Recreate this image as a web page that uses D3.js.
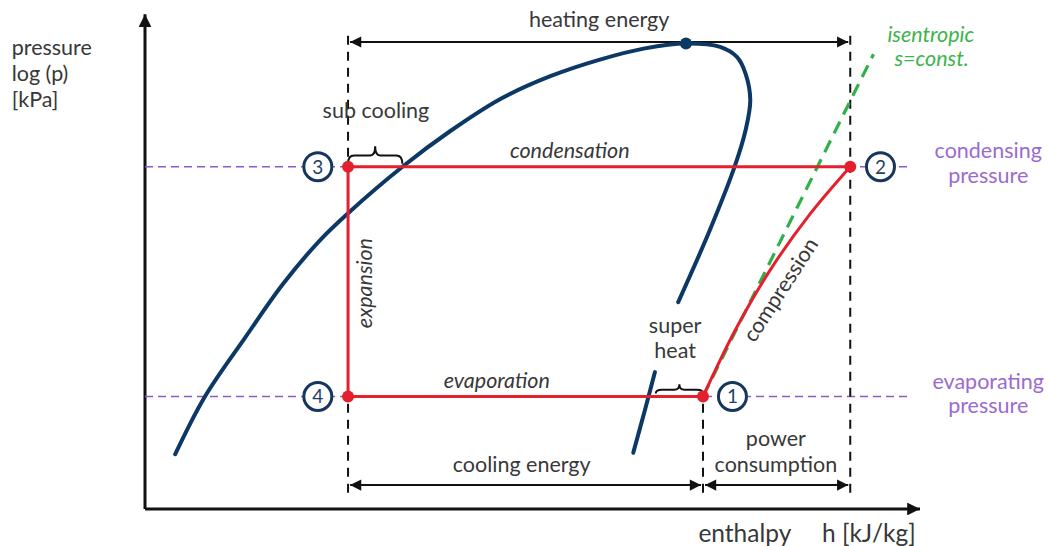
<!DOCTYPE html>
<html>
<head>
  <meta charset="utf-8" />
  <title>log p-h diagram</title>
  <script type="text/javascript" src="https://cdn.jsdelivr.net/npm/d3@7"></script>
  <style type="text/css">
  body { margin: 0; background: #fff; }
  svg { display: block; }
  text {
    font-family: Lato, "Open Sans", sans-serif;
    font-size: 21.5px;
    fill: #383838;
  }
  .it { font-style: italic; }
  .big { font-size: 24.5px; }
  .ylab { font-size: 21.5px; }
  .purple { fill: #9a6bd0; }
  .green { fill: #3cb44b; }
  .num { fill: #1f3f66; font-size: 19px; }
  </style>
</head>
<body>
  <script type="text/javascript">
    // cycle state points [h, log p] (diagram units)
    var cyclePts = [
      { id: 1, h: 72,   p: 23, ch: 75.8 },
      { id: 2, h: 91,   p: 70, ch: 94.9 },
      { id: 3, h: 26.2, p: 70, ch: 22.3 },
      { id: 4, h: 26.2, p: 23, ch: 22.3 }
    ]

    // saturation dome (liquid side up to critical point, then vapour side)
    var domeUpper = [
      [3.9, 11.2], [7.7, 22.9], [12.9, 35.0], [17.8, 46.0], [22.6, 55.0],
      [26.2, 60.5], [33.3, 70.1], [39.4, 77.3], [45.8, 83.8], [52.3, 88.5],
      [58.7, 91.9], [64.5, 94.2], [69.8, 95.2], [74.2, 94.5], [76.4, 92.4],
      [77.5, 89.0], [78.1, 83.6], [77.5, 77.5], [76.1, 70.1], [72.9, 57.1],
      [68.8, 42.3]
    ]
    var domeLower = [[65.8, 28.0], [64.5, 20.2], [63.0, 11.5]]
    var criticalPt = [69.8, 95.2]

    var compression = [[72, 23], [76.1, 36.4], [80.6, 48.7], [85.8, 60.3], [91, 70]]
    var isentropic = [[72, 23], [94, 93]]

    var pressureLines = [70, 23]
    var dashedVerticals = [
      { h: 26.2, p0: 3.3, p1: 98 },
      { h: 91,   p0: 3.3, p1: 98 },
      { h: 72,   p0: 3.3, p1: 23 }
    ]

    var dimArrows = [
      { h0: 26.2, h1: 91, p: 95.5 },
      { h0: 26.2, h1: 72, p: 4.9 },
      { h0: 72,   h1: 91, p: 4.9 }
    ]

    var braces = [
      { h0: 26.2, h1: 33.2, p: 70, up: 4.2 },
      { h0: 65.9, h1: 72,   p: 23, up: 2.5 }
    ]

    var labels = [
      { t: 'heating energy', h: 58.6, p: 98.6 },
      { t: 'sub cooling', h: 29.8, p: 80.0 },
      { t: 'condensation', h: 54.8, p: 71.8, cls: 'it' },
      { t: 'evaporation', h: 45.4, p: 24.8, cls: 'it' },
      { t: 'expansion', h: 29.3, p: 46.2, cls: 'it', rot: -90 },
      { t: 'compression', h: 82.8, p: 44.0, rot: -57 },
      { t: 'super', h: 68.4, p: 36.0 },
      { t: 'heat', h: 68.4, p: 30.9 },
      { t: 'cooling energy', h: 48.6, p: 7.6 },
      { t: 'power', h: 81.4, p: 12.9 },
      { t: 'consumption', h: 81.4, p: 7.6 },
      { t: 'enthalpy', h: 77.4, p: -6.8, cls: 'big' },
      { t: 'h [kJ/kg]', h: 93.4, p: -6.8, cls: 'big' },
      { t: 'pressure', h: -17.2, p: 92.9, anchor: 'start', cls: 'ylab' },
      { t: 'log (p)', h: -17.2, p: 87.6, anchor: 'start', cls: 'ylab' },
      { t: '[kPa]', h: -17.2, p: 82.3, anchor: 'start', cls: 'ylab' },
      { t: 'isentropic', h: 101.4, p: 95.5, cls: 'it green' },
      { t: 's=const.', h: 101.5, p: 90.6, cls: 'it green' },
      { t: 'condensing', h: 108.8, p: 71.8, cls: 'purple' },
      { t: 'pressure', h: 108.8, p: 66.7, cls: 'purple' },
      { t: 'evaporating', h: 108.8, p: 24.6, cls: 'purple' },
      { t: 'pressure', h: 108.8, p: 19.7, cls: 'purple' }
    ]

    var w = 1048,
        h = 546,
        x = d3.scaleLinear().domain([0, 100]).range([145, 920]),
        y = d3.scaleLinear().domain([0, 100]).range([509, 20])

    var svg = d3.select(document.body)
      .append('svg')
      .attr('width', w)
      .attr('height', h)

    var defs = svg.append('defs')
    function marker(id, size, orient) {
      defs.append('marker')
        .attr('id', id)
        .attr('viewBox', '0 0 10 10')
        .attr('refX', 10).attr('refY', 5)
        .attr('markerUnits', 'userSpaceOnUse')
        .attr('markerWidth', size).attr('markerHeight', size * 0.8)
        .attr('orient', orient)
      .append('path')
        .attr('d', 'M0,0 L10,5 L0,10 Z')
        .attr('fill', '#111')
    }
    marker('axisHead', 16, 'auto')
    marker('dimEnd', 14, 'auto')
    marker('dimStart', 14, 'auto-start-reverse')

    var line = d3.line().x(function(d) { return x(d[0]) }).y(function(d) { return y(d[1]) })
    var smooth = d3.line().curve(d3.curveCatmullRom.alpha(0.5))
      .x(function(d) { return x(d[0]) }).y(function(d) { return y(d[1]) })

    // axes
    svg.append('line')
      .attr('x1', x(0)).attr('y1', y(0)).attr('x2', x(100)).attr('y2', y(0))
      .attr('stroke', '#111').attr('stroke-width', 3)
      .attr('marker-end', 'url(#axisHead)')
    svg.append('line')
      .attr('x1', x(0)).attr('y1', y(0)).attr('x2', x(0)).attr('y2', y(101.2))
      .attr('stroke', '#111').attr('stroke-width', 3)
      .attr('marker-end', 'url(#axisHead)')

    // pressure levels
    svg.selectAll('line.plevel')
      .data(pressureLines)
    .enter().append('line')
      .attr('class', 'plevel')
      .attr('x1', x(0)).attr('x2', x(98.6))
      .attr('y1', y).attr('y2', y)
      .attr('stroke', '#8a5cc8').attr('stroke-width', 1.6)
      .attr('stroke-dasharray', '8,5')

    // vertical guides
    svg.selectAll('line.guide')
      .data(dashedVerticals)
    .enter().append('line')
      .attr('class', 'guide')
      .attr('x1', function(d) { return x(d.h) }).attr('x2', function(d) { return x(d.h) })
      .attr('y1', function(d) { return y(d.p0) }).attr('y2', function(d) { return y(d.p1) })
      .attr('stroke', '#111').attr('stroke-width', 2)
      .attr('stroke-dasharray', '9,7')

    // dimension arrows
    svg.selectAll('line.dim')
      .data(dimArrows)
    .enter().append('line')
      .attr('class', 'dim')
      .attr('x1', function(d) { return x(d.h0) + 2 }).attr('x2', function(d) { return x(d.h1) - 2 })
      .attr('y1', function(d) { return y(d.p) }).attr('y2', function(d) { return y(d.p) })
      .attr('stroke', '#111').attr('stroke-width', 2)
      .attr('marker-start', 'url(#dimStart)')
      .attr('marker-end', 'url(#dimEnd)')

    // isentropic
    svg.append('path')
      .attr('d', line(isentropic))
      .attr('fill', 'none').attr('stroke', '#2fb04a').attr('stroke-width', 3.2)
      .attr('stroke-dasharray', '13,8')

    // dome
    svg.append('path')
      .attr('d', smooth(domeUpper))
      .attr('fill', 'none').attr('stroke', '#0c3866').attr('stroke-width', 4)
      .attr('stroke-linecap', 'round')
    svg.append('path')
      .attr('d', smooth(domeLower))
      .attr('fill', 'none').attr('stroke', '#0c3866').attr('stroke-width', 4)
      .attr('stroke-linecap', 'round')
    svg.append('circle')
      .attr('cx', x(criticalPt[0])).attr('cy', y(criticalPt[1])).attr('r', 6)
      .attr('fill', '#0c3866')

    // braces
    svg.selectAll('path.brace')
      .data(braces)
    .enter().append('path')
      .attr('class', 'brace')
      .attr('d', function(d) {
        var a = x(d.h0), b = x(d.h1), m = (a + b) / 2,
            y0 = y(d.p) - 3, yb = y(d.p + d.up * 0.55), yt = y(d.p + d.up)
        return 'M' + a + ',' + y0 + ' Q' + a + ',' + yb + ' ' + (a + 6) + ',' + yb +
          ' L' + (m - 5) + ',' + yb + ' Q' + m + ',' + yb + ' ' + m + ',' + yt +
          ' Q' + m + ',' + yb + ' ' + (m + 5) + ',' + yb +
          ' L' + (b - 6) + ',' + yb + ' Q' + b + ',' + yb + ' ' + b + ',' + y0
      })
      .attr('fill', 'none').attr('stroke', '#111').attr('stroke-width', 2)

    // refrigeration cycle
    var byId = {}
    cyclePts.forEach(function(d) { byId[d.id] = d })
    var redStroke = '#e3202c'
    svg.append('path')
      .attr('d', smooth(compression))
      .attr('fill', 'none').attr('stroke', redStroke).attr('stroke-width', 3)
    svg.append('path')
      .attr('d', line([[byId[2].h, byId[2].p], [byId[3].h, byId[3].p], [byId[4].h, byId[4].p], [byId[1].h, byId[1].p]]))
      .attr('fill', 'none').attr('stroke', redStroke).attr('stroke-width', 3)
      .attr('stroke-linejoin', 'round')

    svg.selectAll('circle.state')
      .data(cyclePts)
    .enter().append('circle')
      .attr('class', 'state')
      .attr('cx', function(d) { return x(d.h) }).attr('cy', function(d) { return y(d.p) })
      .attr('r', 6).attr('fill', redStroke)

    var badge = svg.selectAll('g.badge')
      .data(cyclePts)
    .enter().append('g')
      .attr('class', 'badge')
      .attr('transform', function(d) { return 'translate(' + x(d.ch) + ',' + y(d.p) + ')' })
    badge.append('circle')
      .attr('r', 14).attr('fill', '#fff')
      .attr('stroke', '#16365c').attr('stroke-width', 3)
    badge.append('text')
      .attr('class', 'num')
      .attr('text-anchor', 'middle')
      .attr('dy', '0.36em')
      .text(function(d) { return d.id })

    // labels
    svg.selectAll('text.lbl')
      .data(labels)
    .enter().append('text')
      .attr('class', function(d) { return 'lbl ' + (d.cls || '') })
      .attr('text-anchor', function(d) { return d.anchor || 'middle' })
      .attr('transform', function(d) {
        return 'translate(' + x(d.h) + ',' + y(d.p) + ')' + (d.rot ? ' rotate(' + d.rot + ')' : '')
      })
      .text(function(d) { return d.t })
  </script>
</body>
</html>
